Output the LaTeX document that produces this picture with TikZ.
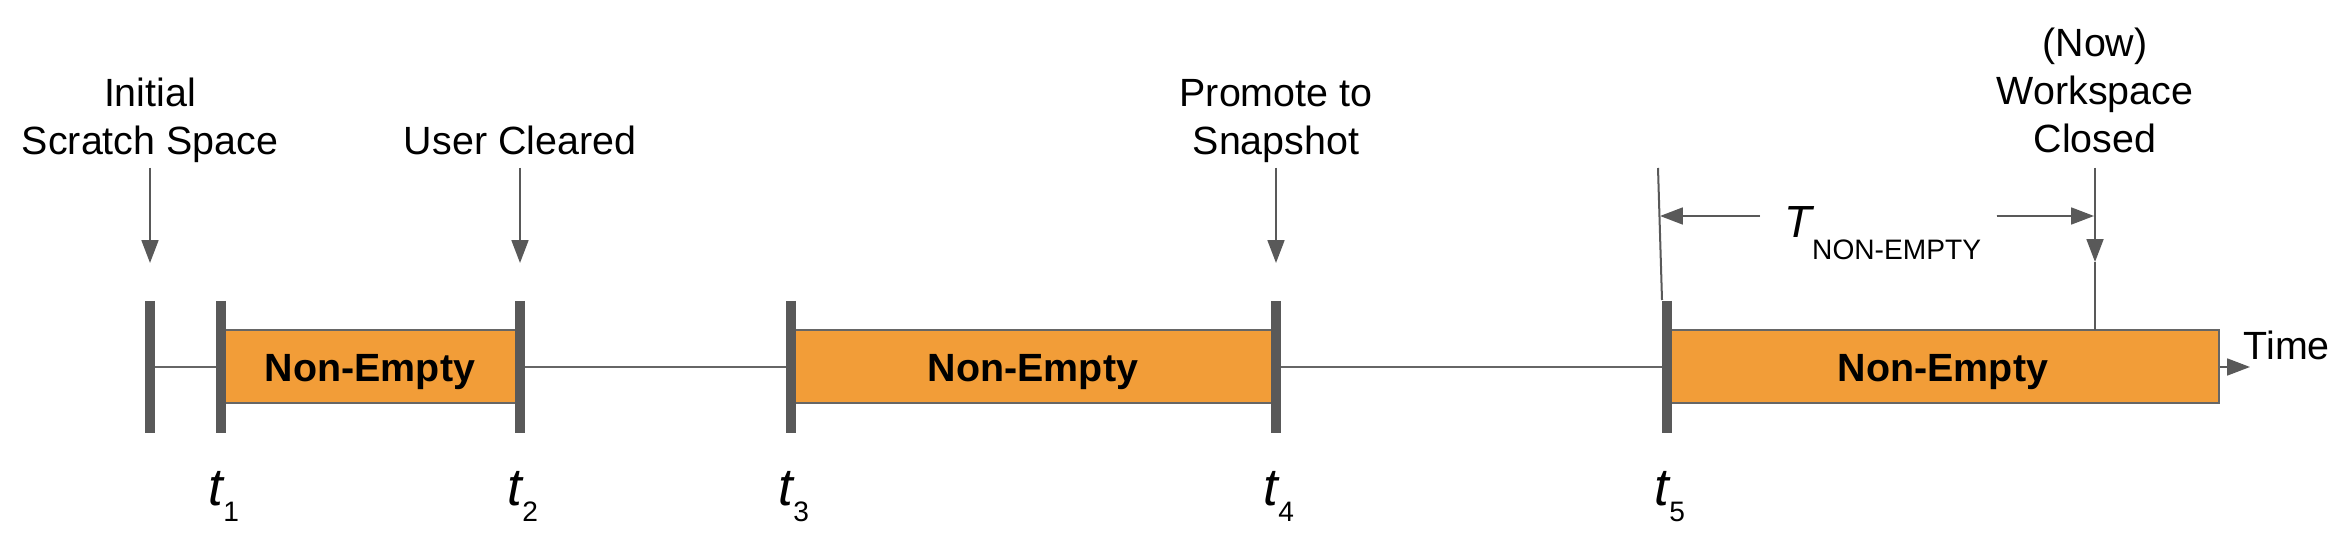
\documentclass[tikz,border=0pt]{standalone}
\usepackage{fontspec}
\setmainfont{Liberation Sans}
\usetikzlibrary{arrows.meta,calc}

\definecolor{barorange}{HTML}{F29D38}
\definecolor{markgray}{HTML}{595959}
\definecolor{linegray}{HTML}{666666}

\newcommand{\labelsize}{\fontsize{11.2}{13.66}\selectfont}
\newcommand{\tsub}[1]{{\fontsize{15}{17}\selectfont\itshape t}\raisebox{-4.8pt}{\fontsize{8}{9}\selectfont #1}}

\tikzset{
  tickmark/.style={draw=markgray, line width=2.85pt},
  nebar/.style={fill=barorange, draw=linegray, line width=0.57pt},
  axisline/.style={draw=linegray, line width=0.57pt},
  pointer/.style={draw=markgray, fill=markgray, line width=0.57pt, -{Triangle[length=6.5pt,width=4.8pt]}},
  event/.style={anchor=south, align=center, inner sep=0pt, text depth=0pt},
  barlabel/.style={anchor=base, inner sep=0pt, font=\labelsize\bfseries},
  tlabel/.style={anchor=base west, inner sep=0pt},
}

\begin{document}
\begin{tikzpicture}[x=0.01cm, y=-0.01cm, font=\labelsize]
\useasboundingbox (0,0) rectangle (2336,540);

% marks on the time axis
\foreach \n/\x in {0/150,1/221,2/520,3/791,4/1276,5/1667}
  \coordinate (m\n) at (\x,367);
\coordinate (barend) at (2219,367);
\coordinate (axisend) at (2250,367);

\draw[axisline] (m0) -- (m1) (m2) -- (m3) (m4) -- (m5);
\draw[pointer] (barend) -- (axisend);
\node[anchor=base west, inner sep=0pt] (time) at (2243,360) {Time};

% non-empty periods
\draw[nebar] (221,330) rectangle (520,403);
\draw[nebar] (791,330) rectangle (1276,403);
\draw[nebar] (1667,330) rectangle (2219,403);
\node[barlabel] (ne1) at (370,382) {Non-Empty};
\node[barlabel] (ne2) at (1033,382) {Non-Empty};
\node[barlabel] (ne3) at (1943,382) {Non-Empty};

\foreach \n in {0,...,5}
  \draw[tickmark] (m\n) ++(0,-66) -- ++(0,132);

\foreach \n in {1,...,5}
  \node[tlabel] (t\n) at ($(m\n)+(-13,138)$) {\tsub{\n}};

% events
\node[event] (ev0) at (150,155) {Initial\\Scratch Space};
\node[event] (ev2) at (520,155) {User Cleared};
\node[event] (ev4) at (1276,155) {Promote to\\Snapshot};
\node[event] (evnow) at (2095,153) {(Now)\\Workspace\\Closed};

\draw[pointer] (ev0.south) ++(0,13) -- ++(0,95);
\draw[pointer] (ev2.south) ++(0,13) -- ++(0,95);
\draw[pointer] (ev4.south) ++(0,13) -- ++(0,95);
\draw[pointer] (evnow.south) ++(0,15) -- ++(0,94) coordinate (nowtip);
\draw[axisline, draw=markgray] (nowtip) -- (nowtip |- 0,330);

% duration of the last period
\coordinate (durL) at (1660,216);
\coordinate (durR) at (2094,216);
\draw[axisline, draw=markgray] (1658,168) -- (1662,300);
\node[tlabel] (tdur) at (1784,238)
  {{\fontsize{12.8}{14}\selectfont\itshape T}\raisebox{-6pt}{\fontsize{8}{9}\selectfont NON-EMPTY}};
\draw[pointer] (durL -| tdur.west) ++(-24,0) -- (durL);
\draw[pointer] (durR -| tdur.east) ++(15,0) -- (durR);
\end{tikzpicture}
\end{document}
